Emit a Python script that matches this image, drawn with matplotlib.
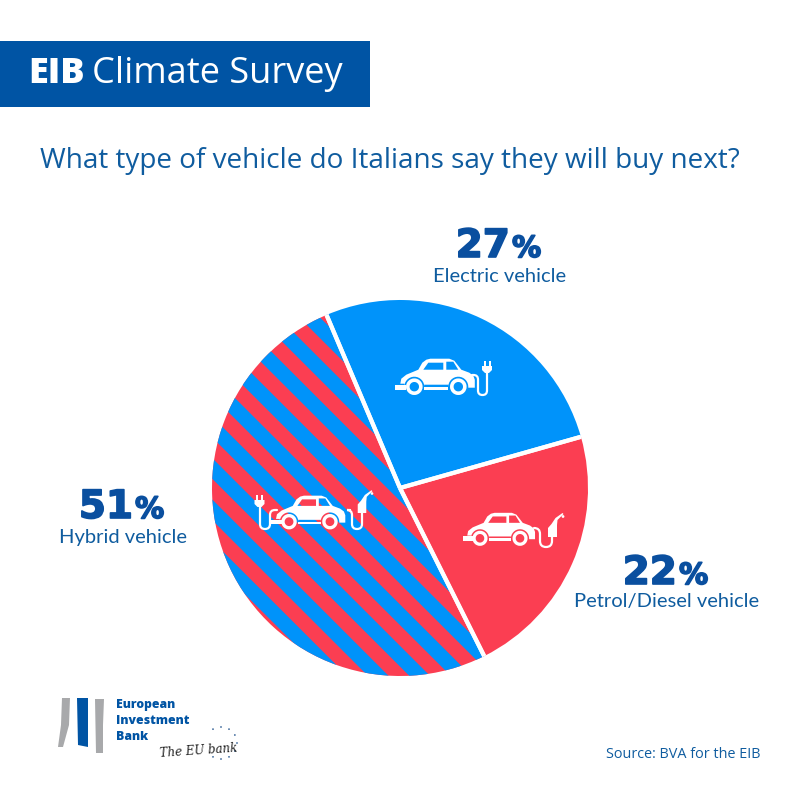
import numpy as np
import matplotlib
matplotlib.use("Agg")
import matplotlib.pyplot as plt
import matplotlib.patheffects as pe
from matplotlib.patches import Rectangle, Polygon, Annulus, PathPatch, Circle
from matplotlib.path import Path

# data
labels = ["Electric vehicle", "Petrol/Diesel vehicle", "Hybrid vehicle"]
values = [27, 22, 51]
title = "What type of vehicle do Italians say they will buy next?"
source = "Source: BVA for the EIB"

BLUE = "#0093fa"
RED = "#fb3e52"
NAVY = "#0a4f9f"
TITLE = "#0f5c9f"
H = 800


def fy(y):
    return H - y


fig = plt.figure(figsize=(8, 8), dpi=100)
ax = fig.add_axes([0, 0, 1, 1])

# pie
cx, cy, r = 400, fy(488), 188
wedges, _ = ax.pie(values, startangle=113, counterclock=False, center=(cx, cy), radius=r,
                   colors=[BLUE, RED, RED], frame=True)
ax.set_xlim(0, 800)
ax.set_ylim(0, 800)
ax.set_aspect("auto")
ax.axis("off")

# header
ax.add_patch(Rectangle((0, fy(107)), 370, 66, color="#0054a4", lw=0))
ax.text(28, fy(74), "EIB", color="white", fontsize=26, family="Open Sans", weight=800, va="center")
ax.text(92, fy(74), "Climate Survey", color="white", fontsize=26, family="Open Sans", va="center")
ax.text(40, fy(161), title, color=TITLE, fontsize=20.1, family="Open Sans", va="center")

# blue stripes on the hybrid slice, y = c + x in image pixels
for c in np.arange(339 - 41.4 * 14, 500, 41.4):
    xa, xb = 100, 600
    pts = [(xa, fy(c + xa - 10.35)), (xb, fy(c + xb - 10.35)),
           (xb, fy(c + xb + 10.35)), (xa, fy(c + xa + 10.35))]
    st = Polygon(pts, color=BLUE, lw=0)
    ax.add_patch(st)
    st.set_clip_path(wedges[2])

# white separators
for w in wedges:
    for a in (w.theta1, w.theta2):
        ax.plot([cx, cx + r * np.cos(np.radians(a))], [cy, cy + r * np.sin(np.radians(a))],
                color="white", lw=3, solid_capstyle="butt")


def car(x, y, s):
    # icon drawn around the middle of the two wheels, y grows downwards
    def T(p):
        p = np.asarray(p, float)
        return np.c_[x + s * p[:, 0], fy(y + s * p[:, 1])]

    def arch(wx):
        return [(wx + 10 * np.cos(t), -10 * np.sin(t)) for t in np.radians(np.linspace(0, 180, 16))]

    body = [(-36, -3), (-35, -8), (-30, -12), (-18, -17), (-14, -24), (-10, -27), (-6, -28), (13, -28),
            (18, -26), (25, -17), (33, -14), (37, -11), (38.5, -7), (38.5, 1), (32, 1)]
    body += arch(22) + [(12, -2), (-12, -2)] + arch(-22) + [(-32, -3), (-36, -3)]
    win1 = [(-13, -17), (-8, -24), (7, -24), (7, -17), (-13, -17)]
    win2 = [(10, -17), (10, -25), (17, -25), (22, -17), (10, -17)]

    verts, codes = [], []
    for i, poly in enumerate([body, win1, win2]):
        pts = T(poly)
        # holes need the opposite winding
        area = np.sum(pts[:-1, 0] * pts[1:, 1] - pts[1:, 0] * pts[:-1, 1])
        if (i == 0) != (area > 0):
            pts = pts[::-1]
        verts += list(map(tuple, pts))
        codes += [Path.MOVETO] + [Path.LINETO] * (len(pts) - 1)
    ax.add_patch(PathPatch(Path(verts, codes), fc="white", ec="none", zorder=5))
    # bumper and sill
    ax.add_patch(Polygon(T([(-41, -2), (-30, -2), (-30, 3), (-41, 3)]), fc="white", ec="none", zorder=5))
    ax.add_patch(Polygon(T([(-12, 0), (12, 0), (12, 3), (-12, 3)]), fc="white", ec="none", zorder=5))
    for wx in (-22, 22):
        ax.add_patch(Annulus((x + s * wx, fy(y)), 8.3 * s, 3.6 * s, fc="white", ec="none", zorder=5))


def cable(x0, y0, xa, xb, ybot, ytop):
    # U shaped wire going from the car to the plug or pump
    rc = abs(xb - xa) / 2
    sg = 1 if xa > x0 else -1
    pts = [((x0, y0), Path.MOVETO), ((xa - sg * rc, y0), Path.LINETO), ((xa, y0), Path.CURVE3), ((xa, y0 + rc), Path.CURVE3),
           ((xa, ybot - rc), Path.LINETO), ((xa, ybot), Path.CURVE3), (((xa + xb) / 2, ybot), Path.CURVE3),
           ((xb, ybot), Path.CURVE3), ((xb, ybot - rc), Path.CURVE3), ((xb, ytop), Path.LINETO)]
    verts = [(a, fy(b)) for (a, b), _ in pts]
    ax.add_patch(PathPatch(Path(verts, [k for _, k in pts]), fc="none", ec="white", lw=1.6, zorder=5, capstyle="round"))


def plug(x, y, s=1.0):
    # x,y = bottom middle of the plug
    pts = [(-2, 0), (-5, -3), (-5, -7), (5, -7), (5, -3), (2, 0)]
    ax.add_patch(Polygon([(x + s * a, fy(y + s * b)) for a, b in pts], fc="white", ec="none", zorder=5))
    for dx in (-3.5, 1.5):
        ax.add_patch(Rectangle((x + s * dx, fy(y - 7 * s)), 2 * s, 5.5 * s, fc="white", ec="none", zorder=5))


def pump(x, y, s=1.0):
    # x,y = bottom middle of the nozzle handle
    pts = [(-4.5, 0), (-4.5, -9), (-1, -13), (3, -19), (10, -24), (11, -23), (5, -17), (4.5, -12), (4.5, 0)]
    ax.add_patch(Polygon([(x + s * a, fy(y + s * b)) for a, b in pts], fc="white", ec="none", zorder=5))
    ax.add_patch(Circle((x + s * 10.5, fy(y - 20.5 * s)), 1.4 * s, fc="white", ec="none", zorder=5))


# electric
car(436.3, 386.7, 1.0)
cable(472, 375, 478, 487, 395, 372)
plug(487, 373)
# petrol
car(500, 538.3, 0.91)
cable(534, 528, 540, 552, 547, 536)
pump(552.5, 537)
# hybrid
car(309.5, 521.7, 0.93)
cable(350, 510, 352, 362, 529, 512)
pump(362, 513, 0.95)
cable(277, 510, 270, 260, 529, 506)
plug(259.5, 507)

# slice labels
heavy = [pe.withStroke(linewidth=1.2, foreground=NAVY)]
pos = [(500, 257, 277), (667, 584, 602), (123, 518, 538)]
for lab, v, (x, yb, y2) in zip(labels, values, pos):
    ax.text(x + 10, fy(yb), str(v), color=NAVY, fontsize=28, family="DejaVu Sans", weight="bold",
            ha="right", va="baseline", path_effects=heavy)
    ax.text(x + 12, fy(yb), "%", color=NAVY, fontsize=21, family="DejaVu Sans", weight="bold",
            ha="left", va="baseline", path_effects=heavy)
    ax.text(x, fy(y2), lab, color=TITLE, fontsize=14.5, family="Lato", ha="center", va="center")

ax.text(761, fy(754), source, color=TITLE, fontsize=10.4, family="Open Sans", ha="right", va="center")

# logo
ax.add_patch(Polygon([(62, fy(698)), (70, fy(698)), (69, fy(725)), (63, fy(747)), (58, fy(747)), (61, fy(725))], color="#a8a9ab", lw=0))
ax.add_patch(Polygon([(77, fy(698)), (88, fy(698)), (88, fy(747)), (78, fy(745))], color="#0054a4", lw=0))
ax.add_patch(Polygon([(95, fy(699)), (104, fy(699)), (103, fy(725)), (103, fy(753)), (96, fy(753))], color="#a8a9ab", lw=0))
for txt, y in zip(["European", "Investment", "Bank"], [705, 721, 737]):
    ax.text(116, fy(y), txt, color="#0054a4", fontsize=8.8, family="Open Sans", weight=800, va="center")
ax.text(159, fy(751), "The EU bank", color="#222222", fontsize=8.5, family="DejaVu Serif", style="italic", va="center", rotation=4)
for a in np.arange(0, 360, 30):
    if 150 <= a <= 210:
        continue
    ax.add_patch(Circle((221 + 16 * np.cos(np.radians(a)), fy(743) + 16 * np.sin(np.radians(a))), 0.9, fc="#3f6a9c", ec="none"))

fig.savefig("out.png", dpi=100)
